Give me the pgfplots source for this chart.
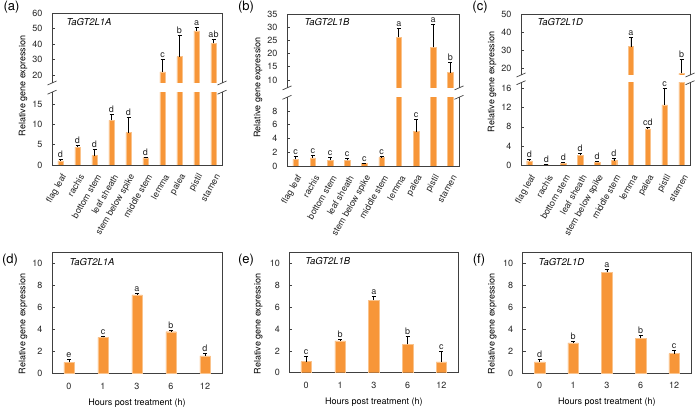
\documentclass[border=0pt]{standalone}
\usepackage{pgfplots}
\pgfplotsset{compat=1.18}
\usepackage{fontspec}
\setmainfont{TeX Gyre Heros}
\definecolor{barfill}{RGB}{247,150,56}
\definecolor{baredge}{RGB}{250,195,140}
\definecolor{frame}{RGB}{64,64,64}
\newcommand\chartfont{\fontsize{9}{10.8}\selectfont}
\tikzset{fr/.style={draw=frame, line width=0.8pt}}
\pgfplotsset{
  base/.style={scale only axis, /pgf/number format/assume math mode=true,
    tick label style={font=\chartfont, text=black!85},
    tick align=inside, ytick pos=left, major tick length=3pt,
    ytick style={draw=frame, line width=0.6pt},
    xtick style={draw=none},
    yticklabel style={xshift=-6pt},
  },
  topx/.style={xmin=-0.5, xmax=9.5, xtick={0,...,9}},
  upper/.style={base, topx, axis line style={draw=none}, xticklabels={}},
  lower/.style={base, topx, axis line style={draw=none},
    xticklabels={flag leaf, rachis, bottom stem, leaf sheath, stem below spike, middle stem, lemma, palea, pistil, stamen},
    xticklabel style={xshift=6pt, yshift=-7pt, rotate=60, anchor=east}},
  bottompanel/.style={base, xmin=-0.5, xmax=4.5, xtick={0,...,4},
    xticklabels={0,1,3,6,12}, xticklabel style={yshift=-6pt},
    ymin=0, ymax=11, ytick={0,2,...,10},
    axis line style={draw=frame, line width=0.8pt}},
  bars/.style={ybar, bar shift=0pt, bar width=#1, fill=barfill, draw=baredge, line width=0.4pt,
    error bars/y dir=plus, error bars/y explicit,
    error bars/error bar style={black, line width=0.7pt},
    error bars/error mark options={rotate=90, mark size=2pt, line width=0.7pt, black}},
  letters/.style={draw=none, nodes near coords, point meta=explicit symbolic,
    nodes near coords style={font=\chartfont, anchor=south, inner sep=1.5pt, text=black!85}},
}
\begin{document}
\begin{tikzpicture}[x=1pt,y=1pt]
\useasboundingbox (0,0) rectangle (700,410);
% ================= (a) =================
\begin{axis}[lower, name=aL, at={(52pt,245pt)}, anchor=south west, width=170pt, height=72.8pt,
  ymin=0, ymax=18, ytick={0,5,10,15}]
\addplot[bars=5.5pt] coordinates {(0,1.0)+-(0,0.4) (1,4.45)+-(0,0.45) (2,2.3)+-(0,1.5) (3,11.05)+-(0,1.55) (4,8.0)+-(0,3.8) (5,1.8)+-(0,0.2) (6,22.2)+-(0,8.1) (7,32.0)+-(0,14.0) (8,48.6)+-(0,2.4) (9,40.6)+-(0,2.8)};
\addplot[letters] coordinates {(0,1.4)[d] (1,4.9)[d] (2,3.8)[d] (3,12.6)[d] (4,11.8)[d] (5,2.0)[d]};
\end{axis}
\begin{axis}[upper, name=aU, at={(52pt,327pt)}, anchor=south west, width=170pt, height=69.7pt,
  ymin=15, ymax=60, ytick={20,30,40,50,60}]
\addplot[bars=5.5pt] coordinates {(6,22.2)+-(0,8.1) (7,32.0)+-(0,14.0) (8,48.6)+-(0,2.4) (9,40.6)+-(0,2.8)};
\addplot[letters] coordinates {(6,30.3)[c] (7,46.0)[b] (8,51)[a] (9,43.4)[ab]};
\end{axis}
% ================= (b) =================
\begin{axis}[lower, name=bL, at={(287pt,244pt)}, anchor=south west, width=172pt, height=68.7pt,
  ymin=0, ymax=10, ytick={0,2,4,6,8}]
\addplot[bars=5.5pt] coordinates {(0,0.97)+-(0,0.48) (1,1.17)+-(0,0.38) (2,0.87)+-(0,0.43) (3,0.83)+-(0,0.32) (4,0.34)+-(0,0.11) (5,1.26)+-(0,0.09) (6,26.2)+-(0,3.2) (7,5.0)+-(0,1.8) (8,22.4)+-(0,8.7) (9,12.8)+-(0,4.0)};
\addplot[letters] coordinates {(0,1.45)[c] (1,1.55)[c] (2,1.3)[c] (3,1.15)[c] (4,0.45)[c] (5,1.35)[c] (7,6.8)[c]};
\end{axis}
\begin{axis}[upper, name=bU, at={(287pt,322.1pt)}, anchor=south west, width=172pt, height=73.9pt,
  ymin=7, ymax=35, ytick={10,15,20,25,30,35}]
\addplot[bars=5.5pt] coordinates {(6,26.2)+-(0,3.2) (8,22.4)+-(0,8.7) (9,12.8)+-(0,4.0)};
\addplot[letters] coordinates {(6,29.4)[a] (8,31.1)[a] (9,16.8)[b]};
\end{axis}
% ================= (c) =================
\begin{axis}[lower, name=cL, at={(521pt,244.3pt)}, anchor=south west, width=169pt, height=83pt,
  ymin=0, ymax=17.1, ytick={0,4,8,12,16}]
\addplot[bars=5.5pt] coordinates {(0,0.97)+-(0,0.33) (1,0.2)+-(0,0.05) (2,0.55)+-(0,0.2) (3,2.15)+-(0,0.4) (4,0.75)+-(0,0.15) (5,1.05)+-(0,0.4) (6,32.0)+-(0,5.1) (7,7.6)+-(0,0.3) (8,12.55)+-(0,3.45) (9,17.2)+-(0,7.6)};
\addplot[letters] coordinates {(0,1.3)[d] (1,0.25)[d] (2,0.75)[d] (3,2.55)[d] (4,0.9)[d] (5,1.45)[d] (7,7.9)[cd] (8,16.0)[c]};
\end{axis}
\begin{axis}[upper, name=cU, at={(521pt,335pt)}, anchor=south west, width=169pt, height=61pt,
  ymin=16.3, ymax=50, ytick={20,30,40,50}]
\addplot[bars=5.5pt] coordinates {(6,32.0)+-(0,5.1) (9,17.2)+-(0,7.6)};
\addplot[letters] coordinates {(6,37.1)[a] (9,24.8)[b]};
\end{axis}
% frames and breaks for top panels
\foreach \p in {a,b,c}{
  \draw[fr] (\p L.north west) -- (\p L.south west) -- (\p L.south east) -- (\p L.north east);
  \draw[fr] (\p U.south west) -- (\p U.north west) -- (\p U.north east) -- (\p U.south east);
  \foreach \c in {\p U.south west, \p U.south east, \p L.north west, \p L.north east}{
    \draw[fr, line width=0.7pt] ([xshift=-4.5pt,yshift=-2pt]\c) -- ([xshift=4.5pt,yshift=2pt]\c);
  }
}
\node[anchor=west, font=\fontsize{9.5}{11}\selectfont\itshape] at ([xshift=11pt,yshift=-8.5pt]aU.north west) {TaGT2L1A};
\node[anchor=west, font=\fontsize{9.5}{11}\selectfont\itshape] at ([xshift=14pt,yshift=-8pt]bU.north west) {TaGT2L1B};
\node[anchor=west, font=\fontsize{9.5}{11}\selectfont\itshape] at ([xshift=13pt,yshift=-8pt]cU.north west) {TaGT2L1D};
% ================= bottom panels =================
\begin{axis}[bottompanel, name=dA, at={(52pt,36.7pt)}, anchor=south west, width=170pt, height=121pt]
\addplot[bars=10.5pt] coordinates {(0,1.0)+-(0,0.25) (1,3.26)+-(0,0.14) (2,7.13)+-(0,0.13) (3,3.78)+-(0,0.15) (4,1.58)+-(0,0.25)};
\addplot[letters] coordinates {(0,1.25)[e] (1,3.4)[c] (2,7.26)[a] (3,3.93)[b] (4,1.83)[d]};
\end{axis}
\begin{axis}[bottompanel, name=eA, at={(289.3pt,37.3pt)}, anchor=south west, width=169pt, height=120.4pt]
\addplot[bars=10.5pt] coordinates {(0,1.01)+-(0,0.46) (1,2.91)+-(0,0.13) (2,6.63)+-(0,0.36) (3,2.58)+-(0,0.70) (4,0.98)+-(0,0.98)};
\addplot[letters] coordinates {(0,1.47)[c] (1,3.04)[b] (2,6.99)[a] (3,3.28)[b] (4,1.96)[c]};
\end{axis}
\begin{axis}[bottompanel, name=fA, at={(522.7pt,37pt)}, anchor=south west, width=168.3pt, height=121pt]
\addplot[bars=10.5pt] coordinates {(0,1.01)+-(0,0.27) (1,2.75)+-(0,0.12) (2,9.17)+-(0,0.22) (3,3.15)+-(0,0.27) (4,1.77)+-(0,0.31)};
\addplot[letters] coordinates {(0,1.28)[d] (1,2.87)[b] (2,9.39)[a] (3,3.42)[b] (4,2.08)[c]};
\end{axis}
\node[anchor=west, font=\fontsize{9.5}{11}\selectfont\itshape] at ([xshift=14pt,yshift=-10pt]dA.north west) {TaGT2L1A};
\node[anchor=west, font=\fontsize{9.5}{11}\selectfont\itshape] at ([xshift=12.5pt,yshift=-9pt]eA.north west) {TaGT2L1B};
\node[anchor=west, font=\fontsize{9.5}{11}\selectfont\itshape] at ([xshift=12.5pt,yshift=-10pt]fA.north west) {TaGT2L1D};
\node[font=\chartfont] at ([yshift=-29.4pt]dA.south) {Hours post treatment (h)};
\node[font=\chartfont] at ([yshift=-29.4pt]eA.south) {Hours post treatment (h)};
\node[font=\chartfont] at ([yshift=-29.4pt]fA.south) {Hours post treatment (h)};
% y labels
\node[rotate=90, font=\chartfont] at (23,324) {Relative gene expression};
\node[rotate=90, font=\chartfont] at (258,322.5) {Relative gene expression};
\node[rotate=90, font=\chartfont] at (492,328) {Relative gene expression};
\node[rotate=90, font=\chartfont] at (23,86) {Relative gene expression};
\node[rotate=90, font=\chartfont] at (258.3,86) {Relative gene expression};
\node[rotate=90, font=\chartfont] at (492.3,86) {Relative gene expression};
% panel labels
\node[font=\fontsize{13}{15}\selectfont] at (11.5,403) {(a)};
\node[font=\fontsize{13}{15}\selectfont] at (246,403) {(b)};
\node[font=\fontsize{13}{15}\selectfont] at (480,403) {(c)};
\node[font=\fontsize{13}{15}\selectfont] at (10,150) {(d)};
\node[font=\fontsize{13}{15}\selectfont] at (246,150) {(e)};
\node[font=\fontsize{13}{15}\selectfont] at (479,150) {(f)};
\end{tikzpicture}
\end{document}
